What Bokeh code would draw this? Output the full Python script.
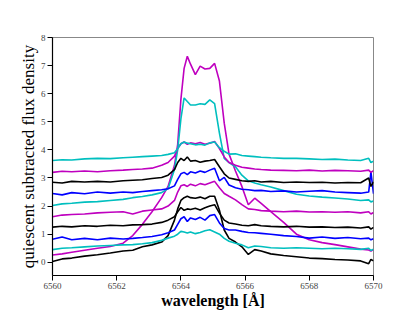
from bokeh.plotting import figure
from bokeh.embed import file_html
from bokeh.resources import INLINE
from bokeh.models import Range1d, FixedTicker

# wavelength grid [Angstrom]
wavelength = [6560.0, 6560.3, 6560.6, 6561.0, 6561.4, 6561.8, 6562.2, 6562.5, 6562.8, 6563.1,
              6563.4, 6563.6, 6563.8, 6563.9, 6564.0, 6564.1, 6564.2, 6564.3, 6564.45, 6564.6,
              6564.75, 6564.9, 6565.05, 6565.2, 6565.35, 6565.5, 6565.7, 6565.9, 6566.1, 6566.3,
              6566.5, 6566.8, 6567.2, 6567.6, 6568.0, 6568.4, 6568.8, 6569.2, 6569.6, 6569.85,
              6569.92, 6570.0]

spec_00_black = [0.03, 0.12, 0.15, 0.22, 0.27, 0.33, 0.40, 0.43, 0.55, 0.62,
                 0.72, 0.95, 1.50, 1.90, 2.20, 2.30, 2.35, 2.30, 2.28, 2.32,
                 2.26, 2.35, 2.35, 1.85, 1.15, 0.85, 0.72, 0.55, 0.28, 0.45,
                 0.40, 0.30, 0.24, 0.20, 0.15, 0.13, 0.10, 0.08, 0.05, -0.05,
                 0.10, 0.05]
spec_01_magenta = [0.26, 0.30, 0.36, 0.43, 0.50, 0.56, 0.68, 0.95, 1.35, 1.80,
                   2.30, 2.70, 3.45, 4.20, 5.80, 6.90, 7.33, 7.05, 6.68, 6.98,
                   6.88, 6.90, 7.08, 6.45, 4.95, 3.85, 3.25, 2.70, 2.05, 2.28,
                   2.10, 1.80, 1.42, 1.00, 0.80, 0.70, 0.63, 0.55, 0.47, 0.44,
                   0.40, 0.45]
spec_02_cyan = [0.45, 0.50, 0.52, 0.55, 0.58, 0.60, 0.62, 0.63, 0.66, 0.70,
                0.78, 0.86, 0.93, 1.00, 1.10, 1.08, 1.04, 1.08, 1.02, 1.06,
                1.12, 1.16, 1.08, 1.00, 0.85, 0.75, 0.68, 0.62, 0.52, 0.58,
                0.56, 0.52, 0.50, 0.52, 0.50, 0.48, 0.50, 0.48, 0.46, 0.50,
                0.42, 0.47]
spec_03_blue = [0.82, 0.90, 0.80, 0.85, 0.80, 0.86, 0.83, 0.85, 0.88, 0.92,
                0.98, 1.05, 1.15, 1.35, 1.55, 1.62, 1.45, 1.58, 1.52, 1.60,
                1.50, 1.66, 1.70, 1.40, 1.20, 1.15, 1.15, 1.10, 1.06, 1.05,
                1.03, 1.00, 0.95, 0.92, 0.86, 0.90, 0.85, 0.88, 0.84, 0.86,
                0.80, 0.84]
spec_04_black = [1.25, 1.28, 1.26, 1.30, 1.28, 1.32, 1.30, 1.33, 1.34, 1.36,
                 1.42, 1.50, 1.62, 1.80, 1.95, 1.85, 1.90, 1.88, 1.92, 1.86,
                 1.94, 2.00, 2.05, 1.75, 1.50, 1.40, 1.36, 1.32, 1.30, 1.34,
                 1.30, 1.28, 1.26, 1.28, 1.25, 1.26, 1.24, 1.25, 1.22, 1.26,
                 1.18, 1.24]
spec_05_magenta = [1.62, 1.68, 1.70, 1.72, 1.76, 1.78, 1.80, 1.72, 1.82, 1.86,
                   1.90, 2.00, 2.20, 2.50, 2.72, 2.76, 2.70, 2.78, 2.72, 2.80,
                   2.76, 2.82, 2.88, 2.65, 2.45, 2.35, 2.22, 2.05, 1.90, 1.88,
                   1.84, 1.82, 1.80, 1.82, 1.79, 1.80, 1.78, 1.80, 1.76, 1.80,
                   1.72, 1.77]
spec_06_cyan = [2.02, 2.08, 2.10, 2.14, 2.16, 2.20, 2.24, 2.30, 2.34, 2.40,
                2.48, 2.62, 3.30, 4.00, 5.10, 5.85, 5.72, 5.60, 5.60, 5.64,
                5.62, 5.78, 5.65, 4.60, 3.70, 3.55, 3.40, 3.10, 2.90, 2.82,
                2.76, 2.68, 2.55, 2.42, 2.36, 2.32, 2.29, 2.25, 2.20, 2.22,
                2.15, 2.18]
spec_07_blue = [2.45, 2.40, 2.48, 2.44, 2.50, 2.46, 2.50, 2.48, 2.52, 2.55,
                2.58, 2.62, 2.72, 2.95, 3.15, 3.20, 3.12, 3.22, 3.18, 3.25,
                3.20, 3.28, 3.35, 2.90, 3.02, 2.75, 2.65, 2.60, 2.58, 2.55,
                2.56, 2.52, 2.54, 2.50, 2.53, 2.55, 2.50, 2.48, 2.46, 2.50,
                3.22, 2.44]
spec_08_black = [2.85, 2.82, 2.88, 2.86, 2.88, 2.86, 2.90, 2.92, 2.94, 2.98,
                 3.02, 3.10, 3.30, 3.55, 3.70, 3.62, 3.75, 3.60, 3.62, 3.56,
                 3.60, 3.62, 3.66, 3.40, 3.15, 3.00, 2.95, 2.90, 2.88, 2.90,
                 2.86, 2.88, 2.84, 2.86, 2.84, 2.85, 2.82, 2.84, 2.83, 3.00,
                 2.70, 2.86]
spec_09_magenta = [3.20, 3.24, 3.22, 3.25, 3.22, 3.26, 3.28, 3.30, 3.32, 3.35,
                   3.45, 3.55, 3.78, 4.05, 4.22, 4.28, 4.20, 4.25, 4.22, 4.26,
                   4.20, 4.24, 4.30, 4.05, 3.75, 3.55, 3.45, 3.38, 3.35, 3.32,
                   3.30, 3.28, 3.27, 3.26, 3.28, 3.25, 3.27, 3.26, 3.24, 3.28,
                   3.20, 3.26]
spec_10_cyan = [3.62, 3.65, 3.64, 3.68, 3.70, 3.69, 3.72, 3.74, 3.76, 3.78,
                3.80, 3.84, 3.90, 4.05, 4.22, 4.28, 4.24, 4.22, 4.18, 4.20,
                4.17, 4.25, 4.28, 4.08, 3.95, 3.85, 3.86, 3.80, 3.78, 3.76,
                3.74, 3.72, 3.70, 3.70, 3.68, 3.66, 3.67, 3.64, 3.62, 3.70,
                3.55, 3.60]

spectra = [spec_00_black, spec_01_magenta, spec_02_cyan, spec_03_blue, spec_04_black,
           spec_05_magenta, spec_06_cyan, spec_07_blue, spec_08_black, spec_09_magenta,
           spec_10_cyan]
colors = ["#000000", "#bf00bf", "#00bfbf", "#0000ff"] * 3

x_ticks = [6560, 6562, 6564, 6566, 6568, 6570]
y_ticks = [0, 1, 2, 3, 4, 5, 6, 7, 8]

FONT = "Liberation Serif"

p = figure(width=415, height=311, output_backend="svg", toolbar_location=None,
           x_range=Range1d(6560, 6570), y_range=Range1d(-0.47, 8),
           min_border_left=52, min_border_right=42, min_border_top=37, min_border_bottom=35)

for ys, c in zip(spectra, colors):
    p.line(wavelength, ys, line_color=c, line_width=1.6)

p.grid.visible = False
p.outline_line_color = "#888888"
p.outline_line_width = 1

for ax in (p.xaxis, p.yaxis):
    ax.axis_line_color = "black"
    ax.axis_line_width = 1.2
    ax.major_tick_line_color = "black"
    ax.major_tick_out = 5
    ax.major_tick_in = 0
    ax.minor_tick_line_color = None
    ax.major_label_text_font = FONT
    ax.major_label_text_font_size = "9px"
    ax.major_label_text_color = "#444444"
    ax.axis_label_text_font = FONT
    ax.axis_label_text_color = "black"

p.xaxis.major_label_standoff = 2
p.xaxis.axis_label_standoff = 0
p.yaxis.major_label_standoff = 2
p.yaxis.axis_label_standoff = 0

p.xaxis.axis_label_text_font_size = "16px"
p.xaxis.axis_label_text_font_style = "bold"
p.yaxis.axis_label_text_font_size = "17px"
p.yaxis.axis_label_text_font_style = "normal"

p.xaxis.ticker = FixedTicker(ticks=x_ticks)
p.yaxis.ticker = FixedTicker(ticks=y_ticks)
p.xaxis.axis_label = "wavelength [Å]"
p.yaxis.axis_label = "quiescent subtracted flux density"

open("out.html", "w").write(file_html(p, INLINE))
